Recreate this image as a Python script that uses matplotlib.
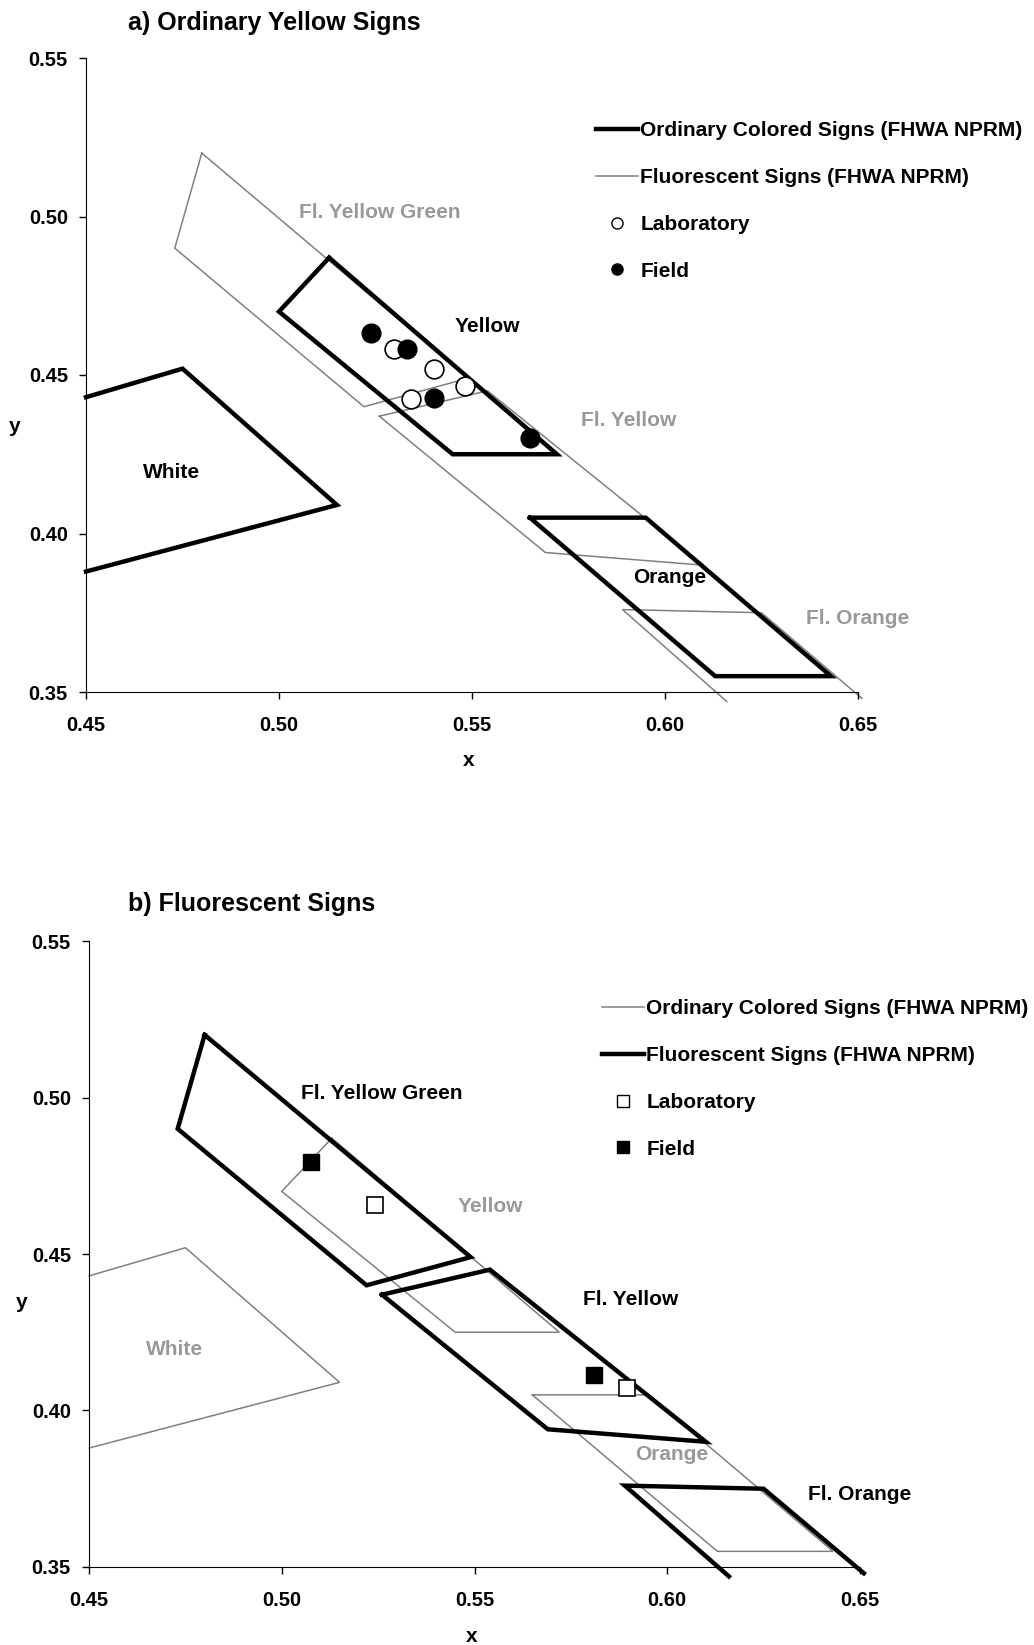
import matplotlib
matplotlib.use('Agg')
import matplotlib.pyplot as plt
from matplotlib.lines import Line2D

plt.rcParams['font.family'] = ['Liberation Sans', 'DejaVu Sans']
plt.rcParams['font.weight'] = 'bold'

# 普通颜色标志的色度区域 (FHWA NPRM)
white_x = [0.450, 0.475, 0.515, 0.450]
white_y = [0.443, 0.452, 0.409, 0.388]
yellow_x = [0.513, 0.500, 0.545, 0.572, 0.513]
yellow_y = [0.487, 0.470, 0.425, 0.425, 0.487]
orange_x = [0.565, 0.595, 0.643, 0.613, 0.565]
orange_y = [0.405, 0.405, 0.355, 0.355, 0.405]

# 荧光标志的色度区域
fl_yg_x = [0.480, 0.473, 0.522, 0.549, 0.480]
fl_yg_y = [0.520, 0.490, 0.440, 0.449, 0.520]
fl_yellow_x = [0.526, 0.554, 0.610, 0.569, 0.526]
fl_yellow_y = [0.437, 0.445, 0.390, 0.394, 0.437]
fl_orange_x = [0.616, 0.589, 0.625, 0.651]
fl_orange_y = [0.347, 0.376, 0.375, 0.348]

# a) 普通黄色标志测量值
a_lab_x = [0.5298, 0.5402, 0.5482, 0.5341]
a_lab_y = [0.4582, 0.4518, 0.4465, 0.4423]
a_field_x = [0.5238, 0.5332, 0.5401, 0.5650]
a_field_y = [0.4633, 0.4581, 0.4428, 0.4300]

# b) 荧光标志测量值
b_lab_x = [0.5243, 0.5896]
b_lab_y = [0.4655, 0.4073]
b_field_x = [0.5077, 0.5809]
b_field_y = [0.4793, 0.4113]

# 区域名称标签
region_names = ['Fl. Yellow Green', 'Yellow', 'Fl. Yellow', 'White', 'Orange', 'Fl. Orange']
region_fluor = [True, False, True, False, False, True]
label_x = [0.526, 0.554, 0.5905, 0.4722, 0.6012, 0.650]
label_y = [0.5012, 0.4653, 0.4356, 0.4194, 0.386, 0.3733]

THICK = 3.2
THIN = 1.1
GRAY_LINE = '#808080'
GRAY_TEXT = '#999999'
FS = 15


def setup_axis(ax):
    ax.set_xlim(0.45, 0.65)
    ax.set_ylim(0.35, 0.55)
    ax.set_xticks([0.45, 0.50, 0.55, 0.60, 0.65])
    ax.set_yticks([0.35, 0.40, 0.45, 0.50, 0.55])
    ax.set_xticklabels(['%.2f' % v for v in ax.get_xticks()])
    ax.set_yticklabels(['%.2f' % v for v in ax.get_yticks()])
    ax.spines['top'].set_visible(False)
    ax.spines['right'].set_visible(False)
    ax.tick_params(direction='out', length=5, width=1, labelsize=14.5)
    ax.tick_params(axis='x', pad=12)
    ax.tick_params(axis='y', pad=8)
    for lab in ax.get_xticklabels() + ax.get_yticklabels():
        lab.set_fontweight('bold')


def draw_regions(ax, ordinary_thick):
    o_lw, o_c = (THICK, 'black') if ordinary_thick else (THIN, GRAY_LINE)
    f_lw, f_c = (THIN, GRAY_LINE) if ordinary_thick else (THICK, 'black')
    for xs, ys in [(white_x, white_y), (yellow_x, yellow_y), (orange_x, orange_y)]:
        ax.plot(xs, ys, color=o_c, lw=o_lw, solid_joinstyle='miter', clip_on=False, zorder=2 if ordinary_thick else 1)
    for xs, ys in [(fl_yg_x, fl_yg_y), (fl_yellow_x, fl_yellow_y), (fl_orange_x, fl_orange_y)]:
        ax.plot(xs, ys, color=f_c, lw=f_lw, solid_joinstyle='miter', clip_on=False, zorder=1 if ordinary_thick else 2)
    for name, fl, lx, ly in zip(region_names, region_fluor, label_x, label_y):
        c = GRAY_TEXT if (fl == ordinary_thick) else 'black'
        ax.text(lx, ly, name, color=c, fontsize=FS, fontweight='bold', ha='center', va='center', zorder=5)


fig = plt.figure(figsize=(10.34, 16.45), dpi=100)
labels = ['Ordinary Colored Signs (FHWA NPRM)', 'Fluorescent Signs (FHWA NPRM)', 'Laboratory', 'Field']

# a) 普通黄色标志
ax1 = fig.add_axes([86 / 1034, 1 - 692 / 1645, 772 / 1034, 634 / 1645])
setup_axis(ax1)
draw_regions(ax1, True)
ax1.plot(a_lab_x, a_lab_y, 'o', ms=13.5, mfc='white', mec='black', mew=1.2, ls='none', zorder=4)
ax1.plot(a_field_x, a_field_y, 'o', ms=13.5, mfc='black', mec='black', ls='none', zorder=4)
handles1 = [Line2D([], [], color='black', lw=THICK),
            Line2D([], [], color=GRAY_LINE, lw=THIN),
            Line2D([], [], marker='o', ms=8, mfc='white', mec='black', ls='none'),
            Line2D([], [], marker='o', ms=8, mfc='black', mec='black', ls='none')]
fig.legend(handles1, labels, loc='upper left', bbox_to_anchor=(586 / 1034, 1 - 111 / 1645),
           frameon=False, borderpad=0, handlelength=2.0, handletextpad=0.1, labelspacing=1.33,
           prop={'size': FS, 'weight': 'bold'})
fig.text(128 / 1034, 1 - 23 / 1645, 'a) Ordinary Yellow Signs', fontsize=18, fontweight='bold', va='center')
fig.text(469 / 1034, 1 - 760 / 1645, 'x', fontsize=FS, fontweight='bold', ha='center', va='center')
fig.text(15 / 1034, 1 - 427 / 1645, 'y', fontsize=FS, fontweight='bold', ha='center', va='center')

# b) 荧光标志
ax2 = fig.add_axes([89 / 1034, 1 - 1567 / 1645, 771 / 1034, 626 / 1645])
setup_axis(ax2)
draw_regions(ax2, False)
ax2.plot(b_lab_x, b_lab_y, 's', ms=12, mfc='white', mec='black', mew=1.2, ls='none', zorder=4)
ax2.plot(b_field_x, b_field_y, 's', ms=12, mfc='black', mec='black', ls='none', zorder=4)
handles2 = [Line2D([], [], color=GRAY_LINE, lw=THIN),
            Line2D([], [], color='black', lw=THICK),
            Line2D([], [], marker='s', ms=8, mfc='white', mec='black', ls='none'),
            Line2D([], [], marker='s', ms=8, mfc='black', mec='black', ls='none')]
fig.legend(handles2, labels, loc='upper left', bbox_to_anchor=(592 / 1034, 1 - 989 / 1645),
           frameon=False, borderpad=0, handlelength=2.0, handletextpad=0.1, labelspacing=1.33,
           prop={'size': FS, 'weight': 'bold'})
fig.text(128 / 1034, 1 - 904 / 1645, 'b) Fluorescent Signs', fontsize=18, fontweight='bold', va='center')
fig.text(472 / 1034, 1 - 1637 / 1645, 'x', fontsize=FS, fontweight='bold', ha='center', va='center')
fig.text(22 / 1034, 1 - 1302 / 1645, 'y', fontsize=FS, fontweight='bold', ha='center', va='center')

fig.savefig('out.png', dpi=100, facecolor='white')
